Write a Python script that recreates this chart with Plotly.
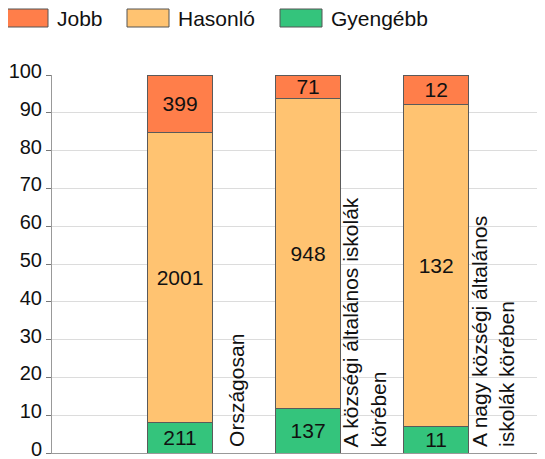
import plotly.graph_objects as go

categories = ["Országosan", "A községi általános iskolák<br>körében", "A nagy községi általános<br>iskolák körében"]
series_names = ["Gyengébb", "Hasonló", "Jobb"]
gyengebb = [211, 137, 11]
hasonlo = [2001, 948, 132]
jobb = [399, 71, 12]
yticks = [0, 10, 20, 30, 40, 50, 60, 70, 80, 90, 100]

colors = {"Jobb": "#FF7E4A", "Hasonló": "#FFC371", "Gyengébb": "#34C47C"}

OFF = 8  # page body margin
W, H = 545 - OFF, 459 - OFF
ML, MR, MT, MB = 52 - OFF, 0, 75 - OFF, 6
PW, PH = W - ML - MR, H - MT - MB
FONT = "Arial, Liberation Sans, sans-serif"

def px_x(px):
    return (px - OFF - ML) / PW

def px_y(py):
    return 1 + (MT - (py - OFF)) / PH

xs = [0, 1, 2]
fig = go.Figure()
for name, vals in zip(series_names, [gyengebb, hasonlo, jobb]):
    fig.add_trace(go.Bar(
        x=xs, y=vals, name=name, width=0.51,
        marker=dict(color=colors[name], line=dict(color="#5a5a5a", width=1)),
        text=[str(v) for v in vals], textposition="inside",
        insidetextanchor="middle", textangle=0, constraintext="none",
        textfont=dict(family=FONT, size=21, color="#111111"),
        showlegend=False, hoverinfo="skip",
    ))

for i, cat in enumerate(categories):
    fig.add_annotation(x=xs[i] + 0.44, y=0, xref="x", yref="y", text=cat,
                       showarrow=False, textangle=-90, xanchor="center",
                       yanchor="bottom", align="left", yshift=4,
                       font=dict(family=FONT, size=21, color="#111111"))

# legend (manual, wide swatches)
legend_items = [("Jobb", 6), ("Hasonló", 127), ("Gyengébb", 280)]
for name, x0 in legend_items:
    fig.add_shape(type="rect", xref="paper", yref="paper",
                  x0=px_x(x0), x1=px_x(x0 + 42), y0=px_y(27), y1=px_y(9),
                  fillcolor=colors[name], line=dict(color="#555555", width=1))
    fig.add_annotation(xref="paper", yref="paper", x=px_x(x0 + 49), y=px_y(18),
                       text=name, showarrow=False, xanchor="left", yanchor="middle",
                       font=dict(family=FONT, size=21, color="#111111"))

fig.update_layout(
    width=W, height=H, barmode="stack", barnorm="percent",
    margin=dict(l=ML, r=MR, t=MT, b=MB, autoexpand=False),
    plot_bgcolor="white", paper_bgcolor="white",
    font=dict(family=FONT, size=20, color="#111111"),
)
fig.update_xaxes(range=[-1.0, 2.85], showticklabels=False, showgrid=False, automargin=False,
                 zeroline=False, showline=True, linecolor="#999999", ticks="")
fig.update_yaxes(range=[0, 100], tickvals=yticks, showgrid=True, gridcolor="#dcdcdc",
                 automargin=False,
                 zeroline=False, showline=True, linecolor="#999999", ticks="outside",
                 ticklen=5, tickcolor="#777777", ticklabeloverflow="allow",
                 ticklabelshift=-4,
                 tickfont=dict(family=FONT, size=20, color="#111111"))

fig.write_html("out.html")
